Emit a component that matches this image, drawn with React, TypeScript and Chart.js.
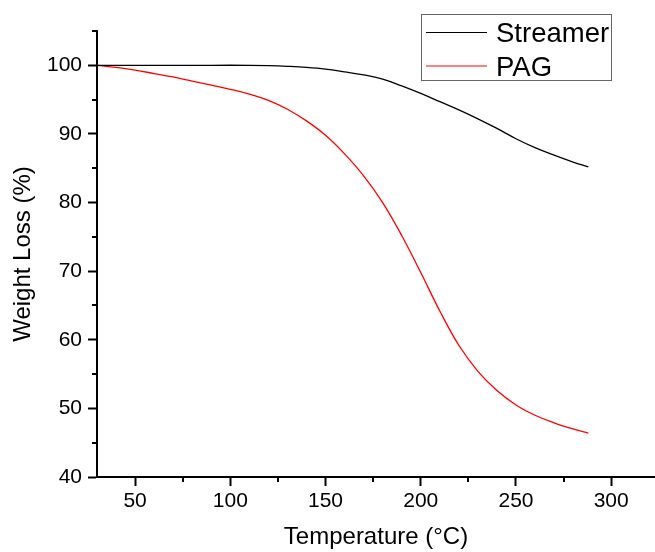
import React, { useEffect, useRef } from "react";
import { Chart, registerables } from "chart.js";

Chart.register(...registerables);

// ---- Data ----
const streamerTemp = [30, 60, 90, 110, 120, 130, 140, 150, 160, 170, 180, 190, 200, 210, 220, 230, 240, 250, 260, 270, 280, 288];
const streamerWeight = [100, 100, 100, 100, 99.95, 99.85, 99.7, 99.45, 99.05, 98.6, 98.0, 97.0, 95.9, 94.7, 93.5, 92.2, 90.8, 89.3, 88.0, 86.9, 85.9, 85.2];

const pagTemp = [30, 40, 50, 60, 70, 80, 90, 100, 110, 120, 130, 140, 150, 160, 170, 180, 190, 200, 210, 220, 230, 240, 250, 260, 270, 280, 288];
const pagWeight = [100, 99.7, 99.3, 98.8, 98.3, 97.7, 97.1, 96.5, 95.8, 94.9, 93.6, 91.9, 89.8, 87.1, 83.9, 80.0, 75.2, 69.8, 64.2, 59.2, 55.4, 52.6, 50.5, 49.0, 47.9, 47.0, 46.4];

const seriesNames = ["Streamer", "PAG"];
const seriesColors = ["#000000", "#ff0000"];

const xMajorTicks = [50, 100, 150, 200, 250, 300];
const xMinorTicks = [75, 125, 175, 225, 275];
const yMajorTicks = [40, 50, 60, 70, 80, 90, 100];
const yMinorTicks = [45, 55, 65, 75, 85, 95, 105];

const xTitle = "Temperature (°C)";
const yTitle = "Weight Loss (%)";

const FONT = '"Liberation Sans", Arial, sans-serif';

const minorTicksPlugin = {
  id: "minorTicks",
  afterDraw(chart: any) {
    const ctx = chart.ctx;
    const xs = chart.scales.x;
    const ys = chart.scales.y;
    const area = chart.chartArea;
    ctx.save();
    ctx.strokeStyle = "#000";
    ctx.lineWidth = 2;
    ctx.beginPath();
    xMinorTicks.forEach((v) => {
      const px = Math.round(xs.getPixelForValue(v));
      ctx.moveTo(px, area.bottom);
      ctx.lineTo(px, area.bottom + 5);
    });
    yMinorTicks.forEach((v) => {
      const py = Math.round(ys.getPixelForValue(v));
      ctx.moveTo(area.left, py);
      ctx.lineTo(area.left - 5, py);
    });
    ctx.stroke();
    ctx.restore();
  },
};

const boxLegendPlugin = {
  id: "boxLegend",
  afterDraw(chart: any) {
    const ctx = chart.ctx;
    const left = 421;
    const top = 14;
    const w = 190;
    const h = 66;
    ctx.save();
    ctx.fillStyle = "#ffffff";
    ctx.fillRect(left, top, w, h);
    ctx.strokeStyle = "#666666";
    ctx.lineWidth = 1;
    ctx.strokeRect(left + 0.5, top + 0.5, w, h);
    ctx.font = `27.5px ${FONT}`;
    ctx.textBaseline = "alphabetic";
    ctx.textAlign = "left";
    chart.data.datasets.forEach((ds: any, i: number) => {
      const cy = 32 + i * 33.5;
      ctx.strokeStyle = ds.borderColor;
      ctx.lineWidth = 1;
      ctx.beginPath();
      ctx.moveTo(426, cy + 0.5);
      ctx.lineTo(487, cy + 0.5);
      ctx.stroke();
      ctx.fillStyle = "#000";
      ctx.fillText(ds.label, 496, cy + 10);
    });
    ctx.restore();
  },
};

export default function App() {
  const canvasRef = useRef<HTMLCanvasElement | null>(null);

  useEffect(() => {
    if (!canvasRef.current) return;
    const chart = new Chart(canvasRef.current, {
      type: "line",
      data: {
        datasets: [
          {
            label: seriesNames[0],
            data: streamerTemp.map((t, i) => ({ x: t, y: streamerWeight[i] })),
            borderColor: seriesColors[0],
            backgroundColor: seriesColors[0],
            borderWidth: 1.3,
            pointRadius: 0,
            tension: 0.4,
            fill: false,
          },
          {
            label: seriesNames[1],
            data: pagTemp.map((t, i) => ({ x: t, y: pagWeight[i] })),
            borderColor: seriesColors[1],
            backgroundColor: seriesColors[1],
            borderWidth: 1.3,
            pointRadius: 0,
            tension: 0.4,
            fill: false,
          },
        ],
      },
      options: {
        responsive: false,
        animation: false,
        devicePixelRatio: 1,
        layout: { padding: { top: 31, right: 0, bottom: 0, left: 0 } },
        plugins: {
          legend: { display: false },
          tooltip: { enabled: false },
        },
        scales: {
          x: {
            type: "linear",
            min: 30,
            max: 323,
            afterBuildTicks: (s: any) => {
              s.ticks = xMajorTicks.map((v) => ({ value: v }));
            },
            afterFit: (s: any) => {
              s.height = 75;
            },
            grid: {
              drawOnChartArea: false,
              drawTicks: true,
              tickLength: 9,
              tickWidth: 2,
              tickColor: "#000",
            },
            border: { display: true, color: "#000", width: 2 },
            ticks: {
              color: "#000",
              font: { family: FONT, size: 21 },
              padding: 3,
              maxRotation: 0,
              autoSkip: false,
            },
            title: {
              display: true,
              text: xTitle,
              color: "#000",
              font: { family: FONT, size: 24 },
              padding: { top: 0, bottom: 0 },
            },
          },
          y: {
            type: "linear",
            min: 40,
            max: 105,
            afterBuildTicks: (s: any) => {
              s.ticks = yMajorTicks.map((v) => ({ value: v }));
            },
            afterFit: (s: any) => {
              s.width = 97;
            },
            grid: {
              drawOnChartArea: false,
              drawTicks: true,
              tickLength: 9,
              tickWidth: 2,
              tickColor: "#000",
            },
            border: { display: true, color: "#000", width: 2 },
            ticks: {
              color: "#000",
              font: { family: FONT, size: 21 },
              padding: 6,
              autoSkip: false,
            },
            title: {
              display: true,
              text: yTitle,
              color: "#000",
              font: { family: FONT, size: 24 },
              padding: { top: 9, bottom: 0 },
            },
          },
        },
      } as any,
      plugins: [minorTicksPlugin, boxLegendPlugin],
    });
    return () => chart.destroy();
  }, []);

  return (
    <div style={{ position: "absolute", left: 0, top: 0, width: 655, height: 552, background: "#fff" }}>
      <canvas ref={canvasRef} width={655} height={552} style={{ display: "block" }} />
    </div>
  );
}
